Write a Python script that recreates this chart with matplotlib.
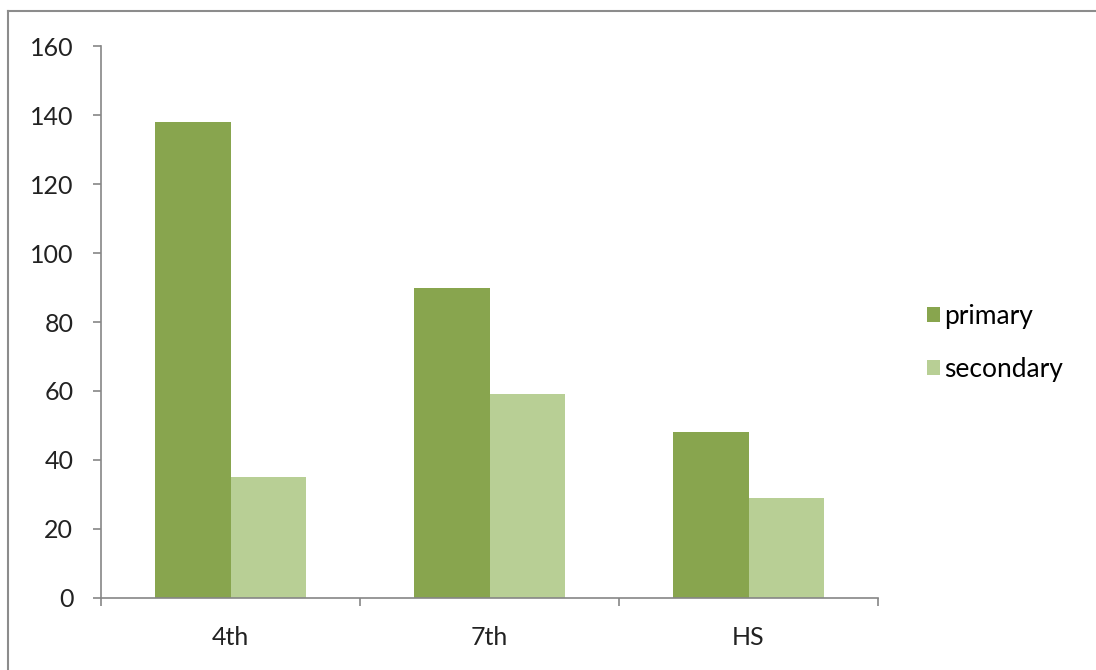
import numpy as np
import matplotlib
matplotlib.use("Agg")
import matplotlib.pyplot as plt
from matplotlib.lines import Line2D

categories = ["4th", "7th", "HS"]
primary = [138, 90, 48]
secondary = [35, 59, 29]
yticks = [0, 20, 40, 60, 80, 100, 120, 140, 160]

plt.rcParams['font.family'] = ['Lato', 'DejaVu Sans']

fig = plt.figure(figsize=(10.96, 6.70), dpi=100)
ax = fig.add_axes([0.0922, 0.1075, 0.7089, 0.8238])

x = np.arange(len(categories))
w = 0.29
ax.bar(x - w / 2, primary, w, color='#88a54e', label='primary')
ax.bar(x + w / 2, secondary, w, color='#b8cf95', label='secondary')

ax.set_xlim(-0.5, len(categories) - 0.5)
ax.set_ylim(0, 160)
ax.set_yticks(yticks)
ax.set_xticks(x)
ax.set_xticklabels(categories)
ax.set_xticks(np.arange(len(categories) + 1) - 0.5, minor=True)

for s in ['top', 'right']:
    ax.spines[s].set_visible(False)
for s in ['left', 'bottom']:
    ax.spines[s].set_color('#868686')
    ax.spines[s].set_linewidth(1.2)

ax.tick_params(axis='y', length=6, color='#868686', width=1.2, labelsize=18, pad=14, labelcolor='#222222')
ax.tick_params(axis='x', which='major', length=0, labelsize=18, pad=20, labelcolor='#222222')
ax.tick_params(axis='x', which='minor', length=6, color='#868686', width=1.2)

handles, labels = ax.get_legend_handles_labels()
fig.legend(handles, labels, loc='center left', bbox_to_anchor=(0.846, 0.488),
           frameon=False, fontsize=19, handlelength=0.5, handleheight=0.5,
           handletextpad=0.15, labelspacing=1.05, borderpad=0, borderaxespad=0)

# outer chart border (left and top visible)
fig.add_artist(Line2D([8 / 1096, 8 / 1096], [0, 1 - 11 / 670], transform=fig.transFigure, color='#8c8c8c', lw=1.5))
fig.add_artist(Line2D([8 / 1096, 1], [1 - 11 / 670, 1 - 11 / 670], transform=fig.transFigure, color='#8c8c8c', lw=1.5))

fig.savefig('out.png', dpi=100)
